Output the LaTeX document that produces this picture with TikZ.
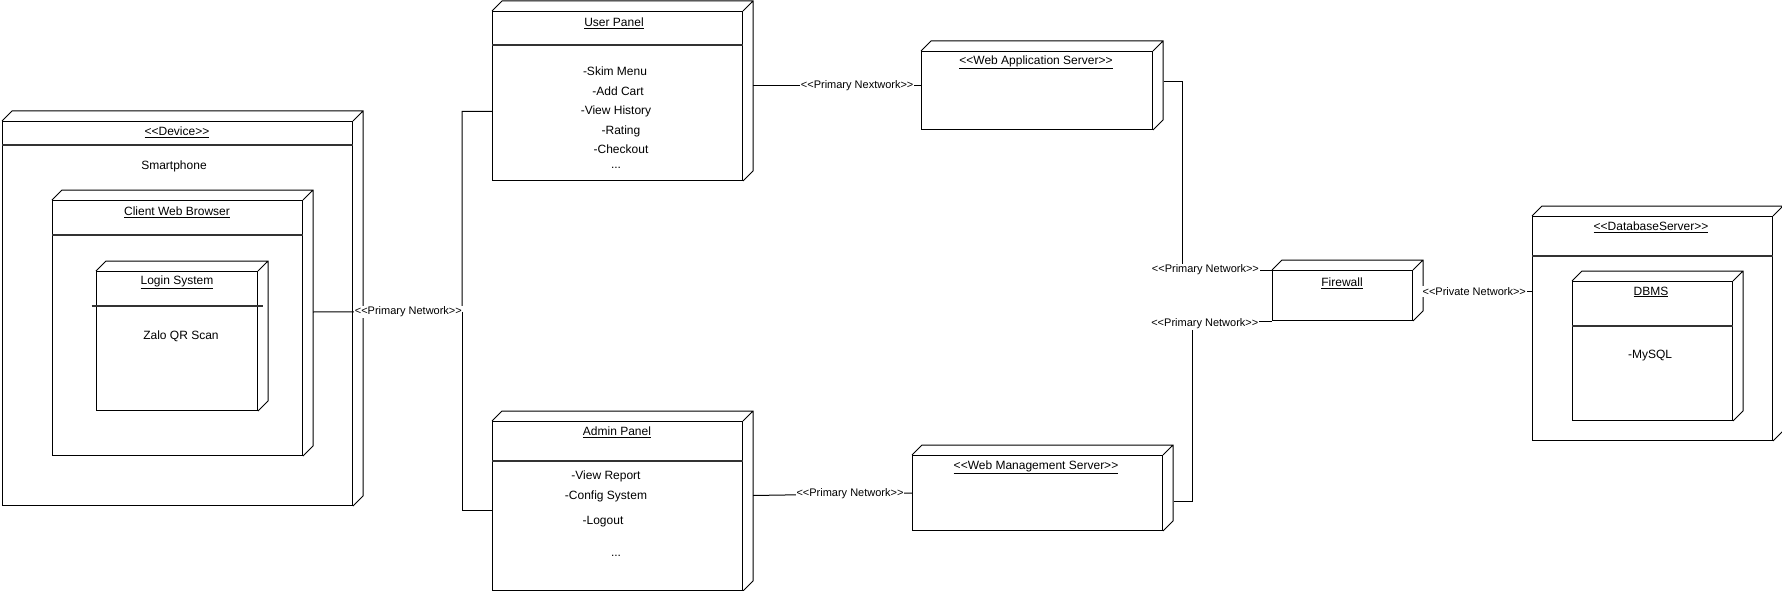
\documentclass[tikz,border=0pt]{standalone}
\usepackage{fontspec}
\setmainfont{Liberation Sans}[Ligatures=TeXOff]
\newcommand{\stereo}[1]{\textless\textless#1\textgreater\textgreater}
\tikzset{
  box/.style 2 args={draw, anchor=north west, inner sep=0pt, minimum width=#1pt, minimum height=#2pt},
  txt/.style={inner sep=0pt, font=\fontsize{12}{14}\selectfont},
  net/.style={fill=white, inner sep=1pt, font=\fontsize{11}{13}\selectfont},
  sepline/.style={line width=2pt, black!80}
}
\begin{document}
\begin{tikzpicture}[x=1pt, y=-1pt, line width=1pt]
    \useasboundingbox (0,0) rectangle (1782,591);
    \node [box={350}{384}] (device) at (2,121) {};
    \node [box={250}{255}] (browser) at (52,200) {};
    \node [box={161}{139}] (login) at (96,271) {};
    \node [box={250}{169}] (user) at (492,11) {};
    \node [box={250}{169}] (admin) at (492,421) {};
    \node [box={231}{78}] (was) at (921,51) {};
    \node [box={250}{75}] (wms) at (912,455) {};
    \node [box={140}{50}] (firewall) at (1272,270) {};
    \node [box={240}{224}] (dbserver) at (1532,216) {};
    \node [box={160}{139}] (dbms) at (1572,281) {};
    \foreach \n in {device, browser, login, user, admin, was, wms, firewall, dbserver, dbms}
        \draw (\n.north west) -- ++(10,-10) -| ([shift={(10,-10)}]\n.south east) -- (\n.south east) (\n.north east) -- ++(10,-10);
    \foreach \n/\d in {device/24, browser/35.3, user/34.3, admin/39.7, dbserver/39.7, dbms/44.7}
        \draw [sepline] ([shift={(0,\d)}]\n.north west) -- ([shift={(0,\d)}]\n.north east);
    \draw [sepline] ([shift={(-4.5,35)}]login.north west) -- ([shift={(5,35)}]login.north east);

    \node [txt] (device-t) at (177,132) {\underline{\stereo{Device}}};
    \node [txt] (phone) at (174,166) {Smartphone};
    \node [txt] (browser-t) at (177,212) {\underline{Client Web Browser}};
    \node [txt] (login-t) at (177,282) {\underline{Login System}};
    \node [txt] (zalo) at (181,336) {Zalo QR Scan};
    \node [txt] (user-t) at (614,23) {\underline{User Panel}};
    \foreach \itm/\x/\y [count=\i] in {-Skim Menu/615/71, -Add Cart/618/91, -View History/616/111, -Rating/621/131, -Checkout/621/149}
        \node [txt] (user-\i) at (\x,\y) {\itm};
    \node [txt] (user-more) at (616,168) {...};
    \node [txt] (admin-t) at (617,432) {\underline{Admin Panel}};
    \foreach \itm/\x/\y [count=\i] in {-View Report/606/476, -Config System/606/496, -Logout/603/522}
        \node [txt] (admin-\i) at (\x,\y) {\itm};
    \node [txt] (admin-more) at (616,556) {...};
    \node [txt] (was-t) at (1036,62) {\underline{\stereo{Web Application Server}}};
    \node [txt] (wms-t) at (1036,467) {\underline{\stereo{Web Management Server}}};
    \node [txt] (firewall-t) at (1342,283) {\underline{Firewall}};
    \node [txt] (dbserver-t) at (1651,227) {\underline{\stereo{DatabaseServer}}};
    \node [txt] (dbms-t) at (1651,292) {\underline{DBMS}};
    \node [txt] (mysql) at (1650,356) {-MySQL};

    \coordinate (bus) at (462,311.5);
    \draw ([shift={(10,-16)}]browser.east) -- node [net, pos=.64] (n1) {\stereo{Primary Network}} (bus) |- ([shift={(0,15.5)}]user.west);
    \draw (bus) |- ([shift={(0,4)}]admin.west);
    \draw ([shift={(10,-10.5)}]user.east) -- node [net, pos=.62] (n2) {\stereo{Primary Nextwork}} ([shift={(0,-5)}]was.west);
    \draw ([shift={(10,-10.5)}]admin.east) -- node [net, pos=.61] (n3) {\stereo{Primary Network}} (wms.west);
    \draw ([shift={(10.5,-9)}]was.east) -| ([xshift=-90pt]firewall.north west) -- node [net, pos=.26] (n4) {\stereo{Primary Network}} (firewall.north west);
    \draw ([shift={(11,8.5)}]wms.east) -| ([xshift=-80pt]firewall.south west) -- node [net, pos=.16, yshift=-3pt] (n5) {\stereo{Primary Network}} (firewall.south west);
    \draw ([shift={(10,-4)}]firewall.east) -- node [net, pos=.47] (n6) {\stereo{Private Network}} ([shift={(0,-37)}]dbserver.west);
\end{tikzpicture}
\end{document}
